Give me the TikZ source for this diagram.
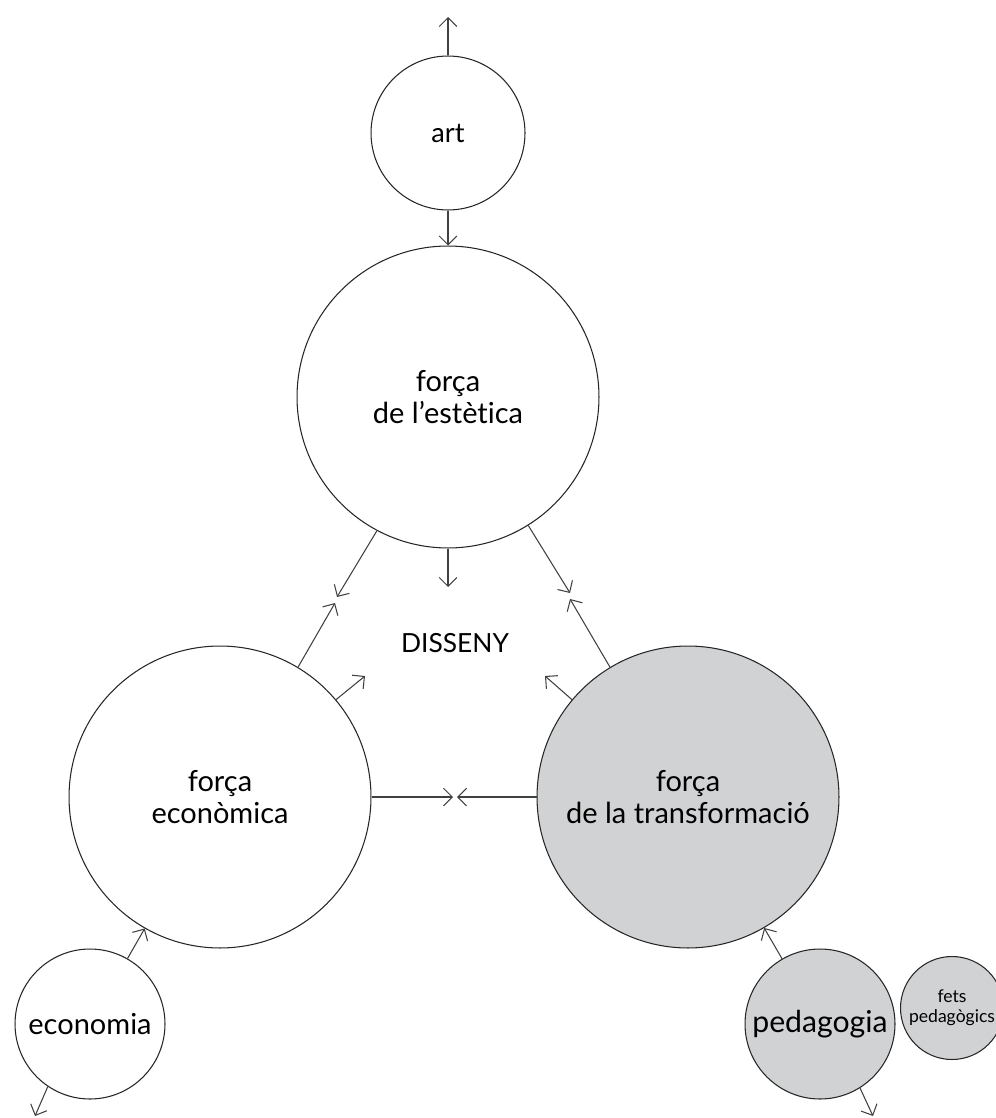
\documentclass[tikz,border=0pt]{standalone}
\usepackage{fontspec}
\setmainfont{Lato}[Ligatures=NoCommon]
\usetikzlibrary{arrows.meta}
\definecolor{grisclar}{RGB}{209,210,212}

\begin{document}
\begin{tikzpicture}[x=0.02cm,y=-0.02cm,
  bola/.style={circle,draw=black!85,line width=0.6pt,inner sep=0pt,align=center,
    font=\fontsize{16.5}{18}\selectfont},
  gran/.style={bola,minimum size=6.04cm},
  petita/.style={bola,minimum size=3.0cm},
  fletxa/.style={draw=black!75,line width=0.6pt,-{Straight Barb[length=5pt,width=10pt]}}]
\useasboundingbox (0,0) rectangle (995,1118);

% cercles
\node[bola,minimum size=3.08cm,font=\fontsize{15.5}{17}\selectfont] (art) at (448,133) {art};
\node[gran] (estetica) at (448,397) {força\\de l’estètica};
\node[gran] (economica) at (220,797) {força\\econòmica};
\node[gran,fill=grisclar] (transf) at (688,797) {força\\de la transformació};
\node[petita,font=\fontsize{16.5}{18}\selectfont] (economia) at (90,1024) {economia};
\node[petita,fill=grisclar,font=\fontsize{17.2}{19}\selectfont] (pedagogia) at (820,1024) {pedagogia};
\node[bola,minimum size=2.06cm,fill=grisclar,font=\fontsize{10}{11.5}\selectfont] (fets) at (952,1008) {fets\\pedagògics};
\node[font=\fontsize{15}{17}\selectfont] (disseny) at (455,643) {DISSENY};

% extrems lliures
\coordinate (amunt) at (448,17);
\coordinate (estE) at (337,597);
\coordinate (estS) at (448,587);
\coordinate (estD) at (570,593);
\coordinate (ecoA) at (335,603);
\coordinate (ecoB) at (365,676);
\coordinate (ecoC) at (453,797);
\coordinate (traA) at (570,599);
\coordinate (traB) at (545,676);
\coordinate (traC) at (457,797);
\coordinate (ecoBaix) at (35,1116);
\coordinate (pedBaix) at (873,1116);

\draw[fletxa] (art.north) -- (amunt);
\draw[fletxa] (art) -- (estetica);
\draw[fletxa] (estetica.242) -- (estE);
\draw[fletxa] (estetica.south) -- (estS);
\draw[fletxa] (estetica.302) -- (estD);
\draw[fletxa] (economica.59) -- (ecoA);
\draw[fletxa] (economica.40) -- (ecoB);
\draw[fletxa] (economica.east) -- (ecoC);
\draw[fletxa] (transf.121) -- (traA);
\draw[fletxa] (transf.140) -- (traB);
\draw[fletxa] (transf.west) -- (traC);
\draw[fletxa] (economia) -- (economica);
\draw[fletxa] (economia.236) -- (ecoBaix);
\draw[fletxa] (pedagogia) -- (transf);
\draw[fletxa] (pedagogia.302) -- (pedBaix);

\end{tikzpicture}
\end{document}
